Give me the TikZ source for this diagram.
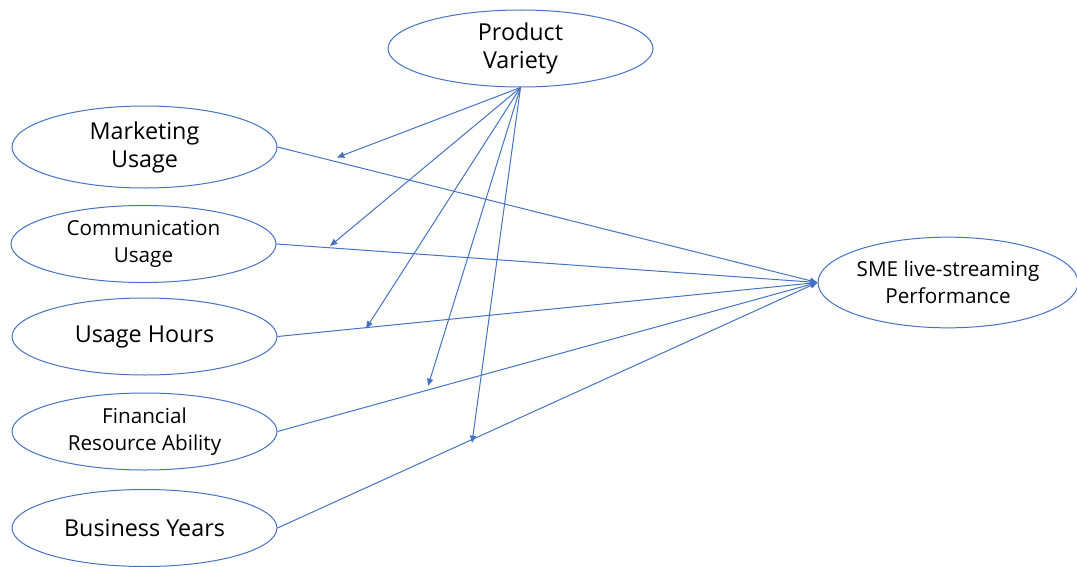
\documentclass[tikz,border=0pt]{standalone}
\usepackage{fontspec}
\setmainfont{Open Sans}
\usetikzlibrary{shapes.geometric,arrows.meta}

\tikzset{every picture/.style={line width=0.75pt}}
\tikzset{
  var/.style={draw={rgb, 255:red, 68; green, 114; blue, 196 }, ellipse, inner sep=0pt, minimum width=198.75pt, minimum height=57.75pt, align=center, text=black},
  big/.style={font=\fontsize{17.5}{21}\selectfont},
  small/.style={font=\fontsize{15.5}{20}\selectfont},
  path/.style={draw={rgb, 255:red, 68; green, 114; blue, 196 }, -{Triangle[length=5.5pt,width=4.5pt]}}
}

\begin{document}
\begin{tikzpicture}[x=0.75pt,y=0.75pt,yscale=-1,xscale=1]
\useasboundingbox (0,0) rectangle (1077,567);

%Shape: Ellipse [id:pv] 
\node [var,big] (pv) at (520.5,48.5) {Product\\Variety};
%Shape: Ellipse [id:mkt] 
\node [var,big,minimum height=61.5pt] (mkt) at (144.5,147) {Marketing\\Usage};
%Shape: Ellipse [id:comm] 
\node [var,small] (comm) at (143.5,244) {Communication\\Usage};
%Shape: Ellipse [id:hours] 
\node [var,big] (hours) at (144.5,336.5) {Usage Hours};
%Shape: Ellipse [id:fin] 
\node [var,small] (fin) at (144.5,431.5) {Financial\\Resource Ability};
%Shape: Ellipse [id:years] 
\node [var,big] (years) at (144.5,528) {Business Years};
%Shape: Ellipse [id:sme] 
\node [var,small,minimum width=195pt,minimum height=68pt] (sme) at (948,282.5) {SME live-streaming\\Performance};

%Straight Lines [id:main] 
\draw [path] (mkt.east) -- (sme.west) ;
\draw [path] (comm.east) -- (sme.west) ;
\draw [path] (hours.east) -- (sme.west) ;
\draw [path] (fin.east) -- (sme.west) ;
\draw [path] (years.east) -- (sme.west) ;

%moderation ends
\coordinate (onmkt) at (337,157.5) ;
\coordinate (oncomm) at (330,246) ;
\coordinate (onhours) at (366,328.5) ;
\coordinate (onfin) at (428,386) ;
\coordinate (onyears) at (472,443) ;

%Straight Lines [id:moderation] 
\draw [path] (pv.south) -- (onmkt) ;
\draw [path] (pv.south) -- (oncomm) ;
\draw [path] (pv.south) -- (onhours) ;
\draw [path] (pv.south) -- (onfin) ;
\draw [path] (pv.south) -- (onyears) ;

\end{tikzpicture}
\end{document}
